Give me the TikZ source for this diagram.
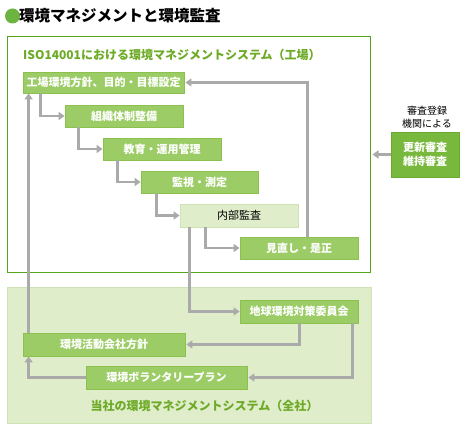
\documentclass[tikz,border=0pt]{standalone}
\usepackage{fontspec}
\setmainfont{Noto Sans CJK JP}
\usetikzlibrary{arrows.meta}
\definecolor{boxfill}{HTML}{9CCC65}
\definecolor{boxline}{HTML}{8CC04F}
\definecolor{darkbox}{HTML}{78B83C}
\definecolor{darkline}{HTML}{6AAA30}
\definecolor{lightbox}{HTML}{DFEDCA}
\definecolor{lightline}{HTML}{CFE4B4}
\definecolor{framecol}{HTML}{56A31C}
\definecolor{titlegreen}{HTML}{6DAA26}
\definecolor{dotgreen}{HTML}{6DB33F}
\definecolor{arrgray}{HTML}{AAAAAA}
\begin{document}
\begin{tikzpicture}[x=1pt,y=-1pt,
  gbox/.style={draw=boxline,fill=boxfill,line width=0.8pt,text=white,font=\fontsize{11}{12}\selectfont\bfseries,inner sep=0pt},
  lbox/.style={draw=lightline,fill=lightbox,line width=0.8pt,text=black,font=\fontsize{11}{12}\selectfont,inner sep=0pt},
  arr/.style={draw=arrgray,line width=2.6pt,-{Triangle[length=6pt,width=8pt]}},
  ln/.style={draw=arrgray,line width=2.6pt},
  ttl/.style={text=titlegreen,font=\fontsize{12}{13}\selectfont\bfseries,inner sep=0pt}]
\useasboundingbox (0,0) rectangle (470,430);
% title
\fill[dotgreen] (12.5,16) circle (7.5pt);
\node[anchor=west,inner sep=0pt,font=\fontsize{15.5}{16}\selectfont\bfseries] (title) at (19,16) {環境マネジメントと環境監査};
% regions
\node[draw=framecol,line width=1pt,minimum width=363pt,minimum height=235pt,inner sep=0pt] (frame) at (188.5,154.5) {};
\node[draw=lightline,fill=lightbox,line width=0.8pt,minimum width=364pt,minimum height=136pt,inner sep=0pt] (region) at (189,355) {};
\node[ttl,anchor=west] (ftitle) at (23,55) {ISO14001における環境マネジメントシステム（工場）};
\node[ttl] (rtitle) at (204.5,406) {当社の環境マネジメントシステム（全社）};
% boxes
\node[gbox,minimum width=161pt,minimum height=21pt] (b1) at (103.5,82.5) {工場環境方針、目的・目標設定};
\node[gbox,minimum width=118pt,minimum height=22pt] (b2) at (124,116) {組織体制整備};
\node[gbox,minimum width=118pt,minimum height=22pt] (b3) at (162,149) {教育・運用管理};
\node[gbox,minimum width=117pt,minimum height=22pt] (b4) at (199.5,182) {監視・測定};
\node[lbox,minimum width=118pt,minimum height=23pt] (b5) at (239,215.5) {内部監査};
\node[gbox,minimum width=118pt,minimum height=22pt] (b6) at (299,248) {見直し・是正};
\node[gbox,minimum width=118pt,minimum height=23pt] (c1) at (299,311.5) {地球環境対策委員会};
\node[gbox,minimum width=162pt,minimum height=23pt] (c2) at (104,344.5) {環境活動会社方針};
\node[gbox,minimum width=161pt,minimum height=23pt] (c3) at (166.5,377.5) {環境ボランタリープラン};
\node[draw=darkline,fill=darkbox,line width=0.8pt,text=white,font=\fontsize{11}{14}\selectfont\bfseries,minimum width=68pt,minimum height=45pt,inner sep=0pt,align=center] (rb) at (425,154.5) {更新審査\\維持審査};
\node[font=\fontsize{10}{13}\selectfont,align=center,inner sep=0pt] (rl) at (427,117.5) {審査登録\\機関による};
% connectors
\draw[arr] ([xshift=18pt]b1.south west) |- (b2.west);
\draw[arr] ([xshift=14pt]b2.south west) |- (b3.west);
\draw[arr] ([xshift=15pt]b3.south west) |- (b4.west);
\draw[arr] ([xshift=16pt]b4.south west) |- (b5.west);
\draw[arr] ([xshift=26pt]b5.south west) |- (b6.west);
\draw[arr] ([xshift=10pt]b5.south west) |- (c1.west);
\draw[arr] ([xshift=68pt]b6.north west) |- ([xshift=1pt]b1.east);
\draw[arr] ([xshift=6pt]c2.north west) -- ([xshift=6pt]b1.south west);
\draw[arr] ([xshift=60pt]c1.south west) |- ([xshift=1pt]c2.east);
\draw[arr] ([xshift=113pt]c1.south west) |- ([xshift=1pt]c3.east);
\draw[arr] (c3.west) -| ([xshift=6pt]c2.south west);
\draw[arr] (rb.west) -- ([xshift=2pt]frame.east |- rb.west);
\end{tikzpicture}
\end{document}
